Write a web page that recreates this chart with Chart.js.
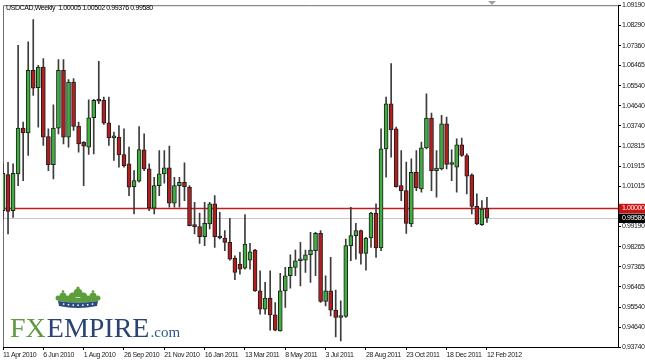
<!DOCTYPE html>
<html><head><meta charset="utf-8">
<script src="https://cdn.jsdelivr.net/npm/chart.js@4.4.0/dist/chart.umd.min.js"></script>
<style>html,body{margin:0;padding:0;background:#fff}#wrap{width:645px;height:361px;position:relative}</style>
</head><body><div id="wrap"><canvas id="c" width="645" height="361"></canvas></div>
<script>
const symbolTitle = 'USDCAD,Weekly';
const tickLabels = ['11 Apr 2010','6 Jun 2010','1 Aug 2010','26 Sep 2010','21 Nov 2010','16 Jan 2011','13 Mar 2011','8 May 2011','3 Jul 2011','28 Aug 2011','23 Oct 2011','18 Dec 2011','12 Feb 2012'];
const yTicks = [1.09190,1.08290,1.07360,1.06465,1.05540,1.04640,1.03740,1.02815,1.01915,1.01015,0.99190,0.98265,0.97365,0.96465,0.95540,0.94640,0.93740];
const levelLine = 1.00000;

const opens = [0.99904,1.01534,0.99904,1.01565,1.03633,1.03422,1.06246,1.05460,1.06397,1.03256,
1.01987,1.03633,1.06246,1.03226,1.05717,1.03724,1.02999,1.02773,1.04101,1.04887,
1.04887,1.03875,1.03196,1.03226,1.02440,1.02018,1.00991,1.01232,1.02652,1.01792,
1.00020,1.01037,1.01565,1.01837,1.00236,1.01037,1.01188,1.00961,0.99270,0.99179,
0.98726,0.99300,1.00206,0.98741,0.98666,0.98470,0.97760,0.97488,0.97307,0.97670,
0.98122,0.96280,0.95449,0.95948,0.95193,0.94468,0.96280,0.96959,0.97337,0.97639,
0.97670,0.97911,0.98092,0.98877,0.95797,0.96280,0.95404,0.95072,0.95117,0.98319,
0.98771,0.98998,0.97971,0.98666,0.99798,0.98213,1.02698,1.04736,1.03603,1.01037,
1.00810,0.99300,1.01641,1.00885,1.02743,1.04087,1.01716,1.01792,1.03830,1.01988,
1.01867,1.02879,1.02396,1.01520,1.00100,0.99270,1.00005];
const highs = [1.02018,1.02093,1.02018,1.07378,1.03905,1.07529,1.08541,1.06472,1.06774,1.03603,
1.04690,1.06729,1.06729,1.05823,1.05868,1.03905,1.03029,1.04917,1.04932,1.06653,
1.05038,1.05038,1.03452,1.03754,1.03603,1.02773,1.01716,1.03709,1.03377,1.02020,
1.01410,1.02622,1.02622,1.02818,1.01414,1.01414,1.02063,1.01037,1.00282,0.99798,
1.00282,1.00282,1.00584,0.99828,0.98998,0.99557,0.97866,0.98017,0.99723,0.98424,
0.98152,0.97186,0.96658,0.97186,0.95750,0.97065,0.97337,0.97911,0.98122,0.98470,
0.98122,0.98922,0.98922,0.98998,0.96959,0.97790,0.96310,0.95827,0.98620,1.00055,
0.99330,0.99028,0.98696,0.99828,1.00206,1.03603,1.05038,1.06548,1.03679,1.02622,
1.02094,1.02245,1.02622,1.03000,1.05189,1.04313,1.02622,1.04207,1.04132,1.02652,
1.03151,1.03181,1.02471,1.01565,1.00659,1.00357,1.00502];
const lows = [0.99526,0.98847,0.99601,1.01036,1.01263,1.02395,1.05113,1.03679,1.02848,1.01716,
1.01338,1.03377,1.02924,1.02773,1.03528,1.02546,1.01036,1.02440,1.02470,1.04736,
1.03800,1.02848,1.02169,1.01867,1.01867,1.00583,0.99753,1.01187,1.01716,0.99900,
0.99750,1.00584,1.01142,1.00055,1.00055,1.00055,1.00357,0.99210,0.98847,0.98424,
0.98319,0.99074,0.98243,0.98621,0.98092,0.97670,0.96778,0.97035,0.97262,0.97262,
0.96250,0.95223,0.95223,0.94498,0.94468,0.94453,0.95525,0.96400,0.96959,0.96506,
0.97111,0.96658,0.96959,0.95752,0.95601,0.95147,0.94196,0.94015,0.95072,0.97639,
0.97715,0.97488,0.97216,0.98243,0.97790,0.98092,1.01414,1.02320,1.00961,1.00357,
0.98877,0.99179,1.00810,1.00734,1.02698,1.00810,1.00508,1.01746,1.01792,1.01263,
1.00734,1.02350,1.00659,0.99753,0.99270,0.99240,0.99376];
const closes = [1.01595,0.99873,1.01595,1.03633,1.03422,1.06246,1.05445,1.06397,1.03226,1.01987,
1.03633,1.06246,1.03226,1.05717,1.03709,1.02924,1.02818,1.04101,1.04887,1.04856,
1.03860,1.03196,1.03211,1.02425,1.01942,1.00961,1.01263,1.02667,1.01791,1.00030,
1.01040,1.01565,1.01837,1.00236,1.01037,1.01188,1.00991,0.99225,0.99179,0.98726,
0.99330,1.00206,0.98726,0.98666,0.98470,0.97715,0.97111,0.97262,0.98394,0.98047,
0.96280,0.95449,0.95948,0.95193,0.94498,0.96280,0.96959,0.97337,0.97639,0.97670,
0.97911,0.98122,0.98877,0.95797,0.96280,0.95404,0.95072,0.95117,0.98319,0.98771,
0.98998,0.97971,0.98666,0.99798,0.98213,1.02698,1.04736,1.03558,1.00991,1.00810,
0.99330,1.01641,1.00931,1.02743,1.04087,1.01716,1.01822,1.03830,1.01988,1.02018,
1.02879,1.02396,1.01459,1.00100,0.99300,0.99979,0.99580];

// 97 weekly bars + empty slots to the right edge of the chart
const slotCount = 123;
const monthNames = ['Jan','Feb','Mar','Apr','May','Jun','Jul','Aug','Sep','Oct','Nov','Dec'];
const categories = [];
for (let i = 0; i < slotCount; i++) {
  const d = new Date(Date.UTC(2010, 3, 11) + i * 7 * 864e5);
  categories.push(d.getUTCDate() + ' ' + monthNames[d.getUTCMonth()] + ' ' + d.getUTCFullYear());
}

const FONT = '"Liberation Sans",Arial,sans-serif';
const GREEN = '#3fae3f', RED = '#b01e1e';
const bodyColors = opens.map((o, i) => closes[i] >= o ? GREEN : RED);
const last = closes.length - 1;

function drawCrown(ctx, cx, top) {
  ctx.save();
  ctx.fillStyle = '#5b9e3b';
  const blobs = [[cx, top+6, 4.5],[cx-5.5, top+9, 3.5],[cx+5.5, top+9, 3.5],
                 [cx-15, top+9, 3.5],[cx+15, top+9, 3.5],[cx-20, top+11, 2.5],[cx+20, top+11, 2.5],
                 [cx-10, top+11.5, 3],[cx+10, top+11.5, 3]];
  blobs.forEach(([x, y, r]) => { ctx.beginPath(); ctx.arc(x, y, r, 0, Math.PI*2); ctx.fill(); });
  ctx.beginPath(); ctx.arc(cx, top+1, 1.6, 0, Math.PI*2); ctx.fill();
  ctx.beginPath(); ctx.arc(cx-15, top+4.5, 1.3, 0, Math.PI*2); ctx.fill();
  ctx.beginPath(); ctx.arc(cx+15, top+4.5, 1.3, 0, Math.PI*2); ctx.fill();
  ctx.beginPath();
  ctx.moveTo(cx-21, top+11); ctx.lineTo(cx+21, top+11);
  ctx.lineTo(cx+20, top+14); ctx.quadraticCurveTo(cx, top+17, cx-20, top+14); ctx.closePath(); ctx.fill();
  ctx.fillStyle = '#2c4a7c';
  ctx.beginPath();
  ctx.moveTo(cx-20, top+14); ctx.quadraticCurveTo(cx, top+17, cx+20, top+14);
  ctx.lineTo(cx+19, top+19); ctx.quadraticCurveTo(cx, top+23, cx-19, top+19); ctx.closePath(); ctx.fill();
  ctx.fillStyle = '#ffffff';
  for (let k = -3; k <= 3; k++) {
    const x = cx + k * 4.8;
    const y = top + 17.5 - (k*k) * 0.13;
    ctx.fillRect(x - 0.7, y, 1.5, 1.5);
  }
  ctx.restore();
}

const SPACING = '-0.4px';
const decor = {
  id: 'decor',
  beforeDraw(chart) {
    // slightly condensed glyph spacing for all chart text
    chart.ctx.letterSpacing = SPACING;
  },
  beforeDatasetsDraw(chart) {
    const {ctx, chartArea: a, scales: {y}} = chart;
    ctx.save();
    // plot frame (left/top)
    ctx.strokeStyle = '#6e6e6e'; ctx.lineWidth = 1;
    ctx.beginPath(); ctx.moveTo(a.left + 0.5, a.bottom); ctx.lineTo(a.left + 0.5, a.top + 0.5); ctx.lineTo(a.right, a.top + 0.5); ctx.stroke();
    // logo
    drawCrown(ctx, 78, 287);
    ctx.letterSpacing = '0px';
    ctx.textBaseline = 'alphabetic'; ctx.textAlign = 'left';
    ctx.font = '28px "Liberation Serif","DejaVu Serif",serif';
    let x = 10;
    ctx.fillStyle = '#5f9b40'; ctx.fillText('FX', x, 337); x += ctx.measureText('FX').width + 1;
    ctx.fillStyle = '#2a4373'; ctx.fillText('EMPIRE', x, 337); x += ctx.measureText('EMPIRE').width;
    ctx.font = '15px "Liberation Serif","DejaVu Serif",serif';
    ctx.fillStyle = '#33558a'; ctx.fillText('.com', x + 1, 337);
    // title
    ctx.letterSpacing = SPACING;
    ctx.font = '7px ' + FONT; ctx.fillStyle = '#000'; ctx.textBaseline = 'middle';
    ctx.fillText(symbolTitle + '  ' + opens[last].toFixed(5) + ' ' + highs[last].toFixed(5) + ' ' + lows[last].toFixed(5) + ' ' + closes[last].toFixed(5), 6, 8);
    // chart shift marker
    ctx.fillStyle = '#a0a0a0';
    ctx.beginPath(); ctx.moveTo(488, 1); ctx.lineTo(496, 1); ctx.lineTo(492, 5); ctx.closePath(); ctx.fill();
    // bid line and level line
    const yb = Math.round(y.getPixelForValue(closes[last])) + 0.5;
    ctx.strokeStyle = '#c8c8c8'; ctx.lineWidth = 1;
    ctx.beginPath(); ctx.moveTo(a.left, yb); ctx.lineTo(a.right, yb); ctx.stroke();
    const yl = y.getPixelForValue(levelLine);
    ctx.strokeStyle = '#c41c1c'; ctx.lineWidth = 1.6;
    ctx.beginPath(); ctx.moveTo(a.left, yl); ctx.lineTo(a.right, yl); ctx.stroke();
    ctx.restore();
  },
  afterDraw(chart) {
    const {ctx, chartArea: a, scales: {y}} = chart;
    ctx.save();
    ctx.letterSpacing = SPACING;
    ctx.font = '7px ' + FONT; ctx.textBaseline = 'middle'; ctx.textAlign = 'left';
    const yl = y.getPixelForValue(levelLine);
    ctx.fillStyle = '#d01010'; ctx.fillRect(a.right + 1, yl - 4.7, 645 - a.right - 1, 9.4);
    ctx.fillStyle = '#ffffff'; ctx.fillText(levelLine.toFixed(5), a.right + 4, yl);
    const yb = y.getPixelForValue(closes[last]);
    ctx.fillStyle = '#000000'; ctx.fillRect(a.right + 1, yb - 4.2, 645 - a.right - 1, 9.4);
    ctx.fillStyle = '#ffffff'; ctx.fillText(closes[last].toFixed(5), a.right + 4, yb + 0.5);
    ctx.restore();
  }
};

new Chart(document.getElementById('c'), {
  type: 'bar',
  data: {
    labels: categories,
    datasets: [
      { label: 'Body', data: opens.map((o, i) => [o, closes[i]]), backgroundColor: bodyColors,
        borderColor: '#1e1e1e', borderWidth: 1, borderSkipped: false, barThickness: 4, minBarLength: 2,
        grouped: false, order: 0 },
      { label: 'Range', data: lows.map((l, i) => [l, highs[i]]), backgroundColor: '#3c3c3c',
        borderWidth: 0, barThickness: 1, grouped: false, order: 1 }
    ]
  },
  options: {
    responsive: false, animation: false, devicePixelRatio: 1,
    layout: { padding: { left: 3, top: 4, right: 0, bottom: 0 } },
    plugins: { legend: { display: false }, tooltip: { enabled: false }, title: { display: false } },
    scales: {
      x: {
        type: 'category', offset: false,
        grid: { display: true, drawOnChartArea: false, drawTicks: true, tickLength: 3, color: '#000', offset: false },
        border: { display: true, color: '#000' },
        ticks: { autoSkip: false, maxRotation: 0, minRotation: 0, align: 'start', padding: 1, color: '#222',
                 font: { family: FONT, size: 7 }, callback: (v, i) => tickLabels[i] },
        afterBuildTicks: s => { s.ticks = s.ticks.filter(t => t.value % 8 === 0 && t.value / 8 < tickLabels.length); },
        afterFit: s => { s.height = 14; }
      },
      y: {
        position: 'right', min: 0.93740, max: 1.09190,
        grid: { display: true, drawOnChartArea: false, drawTicks: true, tickLength: 3, color: '#000' },
        border: { display: true, color: '#000' },
        ticks: { color: '#222', padding: 1, font: { family: FONT, size: 7 }, callback: v => Number(v).toFixed(5) },
        afterBuildTicks: s => { s.ticks = yTicks.map(v => ({ value: v })); },
        afterFit: s => { s.width = 27; }
      }
    }
  },
  plugins: [decor]
});
</script></body></html>
